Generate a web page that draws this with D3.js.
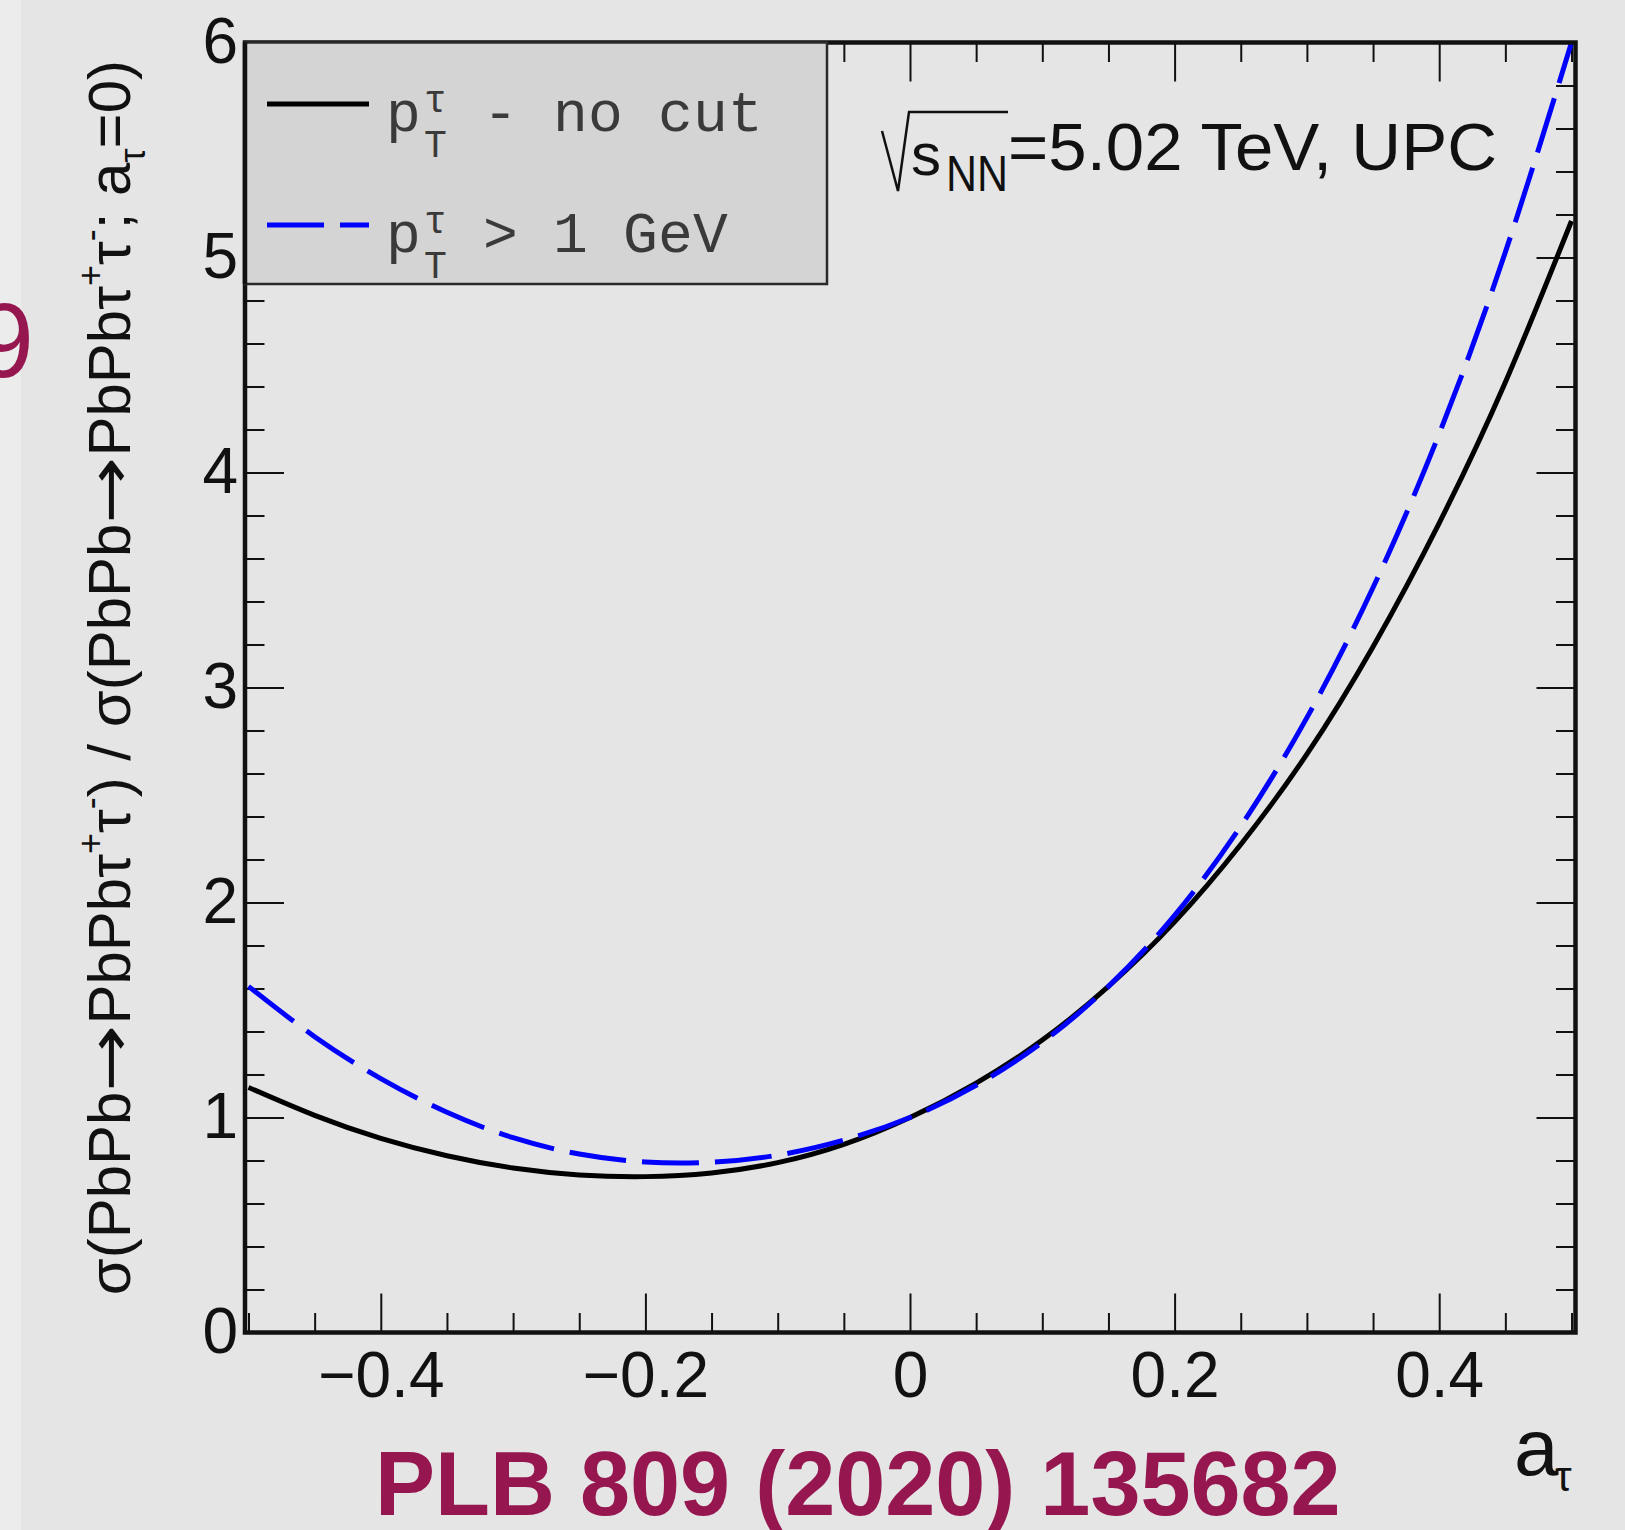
<!DOCTYPE html>
<html><head><meta charset="utf-8">
<script src="https://cdn.jsdelivr.net/npm/d3@7"></script>
<style>html,body{margin:0;padding:0;background:#e5e5e5;}svg{display:block}</style>
</head><body>
<svg id="chart" width="1625" height="1530"></svg>
<script>
// ---- data ----
const aTau = [-0.5,-0.45,-0.4,-0.35,-0.3,-0.25,-0.2,-0.15,-0.1,-0.05,0,0.05,0.1,0.15,0.2,0.25,0.3,0.35,0.4,0.45,0.5];
const ratioNoCut = [1.14,1.01,0.903,0.822,0.765,0.733,0.725,0.742,0.79,0.875,1.0,1.16,1.36,1.61,1.91,2.27,2.69,3.19,3.765,4.42,5.17];
const ratioPtCut = [1.61,1.376,1.181,1.024,0.906,0.83,0.793,0.792,0.825,0.895,1.0,1.15,1.35,1.61,1.94,2.355,2.86,3.465,4.18,5.025,6.0];
const xMajorTicks = [-0.4,-0.2,0,0.2,0.4];
const xTickLabels = ["\u22120.4","\u22120.2","0","0.2","0.4"];
const yMajorTicks = [0,1,2,3,4,5,6];
const yTickLabels = ["0","1","2","3","4","5","6"];
const legendLabels = ["- no cut", "> 1 GeV"];

const svg = d3.select("#chart");
const SANS = "'Liberation Sans', Arial, Helvetica, sans-serif";
const MONO = "'Liberation Mono', 'DejaVu Sans Mono', monospace";
const MAGENTA = "#961650";

const x = d3.scaleLinear().domain([-0.5, 0.5]).range([248.5, 1571.5]);
const y = d3.scaleLinear().domain([0, 6]).range([1332.5, 42.5]);
const frameL = 245, frameR = 1575.5, frameT = y(6), frameB = y(0);

// background
svg.append("rect").attr("x",0).attr("y",0).attr("width",1625).attr("height",1530).attr("fill","#e5e5e5");
svg.append("rect").attr("x",0).attr("y",0).attr("width",21).attr("height",1530).attr("fill","#ececec");

// cut-off "9" from neighbouring slide text
svg.append("text").attr("x",34).attr("y",377).attr("text-anchor","end")
  .style("font-family",SANS).style("font-size","105px").attr("fill",MAGENTA).text("9");

const xMinor = d3.range(-10, 11).map(i => +(i*0.05).toFixed(2)).filter(v => !xMajorTicks.includes(v));
const yMinor = d3.range(0, 31).filter(i => i % 5 !== 0).map(i => +(i*0.2).toFixed(2));
const MAJ = 39, MIN = 19.5;

function styleAxis(g){
  g.select(".domain").remove();
  g.selectAll(".tick line").attr("stroke","#111").attr("stroke-width",2);
}
// bottom
svg.append("g").attr("transform",`translate(0,${frameB})`)
  .call(d3.axisBottom(x).tickValues(xMajorTicks).tickSize(-MAJ).tickPadding(19)
    .tickFormat((d,i)=>xTickLabels[i]))
  .call(styleAxis)
  .call(g=>g.selectAll("text").style("font-family",SANS).style("font-size","64px").attr("fill","#111"));
svg.append("g").attr("transform",`translate(0,${frameB})`)
  .call(d3.axisBottom(x).tickValues(xMinor).tickSize(-MIN).tickFormat("")).call(styleAxis);
// top
svg.append("g").attr("transform",`translate(0,${frameT})`)
  .call(d3.axisTop(x).tickValues(xMajorTicks).tickSize(-MAJ).tickFormat("")).call(styleAxis);
svg.append("g").attr("transform",`translate(0,${frameT})`)
  .call(d3.axisTop(x).tickValues(xMinor).tickSize(-MIN).tickFormat("")).call(styleAxis);
// left
svg.append("g").attr("transform",`translate(${frameL},0)`)
  .call(d3.axisLeft(y).tickValues(yMajorTicks).tickSize(-MAJ).tickPadding(7)
    .tickFormat((d,i)=>yTickLabels[i]))
  .call(styleAxis)
  .call(g=>g.selectAll("text").attr("x",-7).style("font-family",SANS).style("font-size","64px").attr("fill","#111"));
svg.append("g").attr("transform",`translate(${frameL},0)`)
  .call(d3.axisLeft(y).tickValues(yMinor).tickSize(-MIN).tickFormat("")).call(styleAxis);
// right
svg.append("g").attr("transform",`translate(${frameR},0)`)
  .call(d3.axisRight(y).tickValues(yMajorTicks).tickSize(-MAJ).tickFormat("")).call(styleAxis);
svg.append("g").attr("transform",`translate(${frameR},0)`)
  .call(d3.axisRight(y).tickValues(yMinor).tickSize(-MIN).tickFormat("")).call(styleAxis);

// curves
svg.append("clipPath").attr("id","plotclip").append("rect")
  .attr("x",frameL).attr("y",frameT).attr("width",frameR-frameL).attr("height",frameB-frameT);
const line = d3.line().x(d=>x(d[0])).y(d=>y(d[1])).curve(d3.curveNatural);
const gC = svg.append("g").attr("clip-path","url(#plotclip)");
gC.append("path").datum(aTau.map((a,i)=>[a, ratioNoCut[i]])).attr("d",line)
  .attr("fill","none").attr("stroke","#000").attr("stroke-width",5);
gC.append("path").datum(aTau.map((a,i)=>[a, ratioPtCut[i]])).attr("d",line)
  .attr("fill","none").attr("stroke","#0000ff").attr("stroke-width",5).attr("stroke-dasharray","57,16");

// frame
svg.append("rect").attr("x",frameL).attr("y",frameT).attr("width",frameR-frameL).attr("height",frameB-frameT)
  .attr("fill","none").attr("stroke","#111").attr("stroke-width",4.5);

// legend
const lg = svg.append("g");
lg.append("rect").attr("x",frameL).attr("y",frameT).attr("width",827-frameL).attr("height",284-frameT)
  .attr("fill","#d4d4d4").attr("stroke","#2a2a2a").attr("stroke-width",2.5);
lg.append("line").attr("x1",frameL).attr("x2",frameL).attr("y1",frameT).attr("y2",284)
  .attr("stroke","#111").attr("stroke-width",4.5);
const rows = [{base:131, lineY:104, color:"#000", dash:null},{base:252, lineY:225, color:"#0000ff", dash:"57,16"}];
rows.forEach((r,i)=>{
  lg.append("line").attr("x1",267).attr("x2",369).attr("y1",r.lineY).attr("y2",r.lineY)
    .attr("stroke",r.color).attr("stroke-width",5).attr("stroke-dasharray",r.dash);
  const t = (xx,yy,size,txt,anchor)=>lg.append("text").attr("x",xx).attr("y",yy)
    .attr("text-anchor",anchor||"start").style("font-family",MONO).style("font-size",size+"px")
    .attr("fill","#3a3a3a").text(txt);
  t(386, r.base, 58, "p");
  t(424, r.base+26, 38, "T");
  t(424, r.base-19, 38, "\u03c4");
  t(500.5, r.base, 58, legendLabels[i].slice(0,1), "middle");
  t(553, r.base, 58, legendLabels[i].slice(2)).style("letter-spacing","0.2px");
});

// energy label
svg.append("path").attr("d","M882,131 L898,191 L909,112 L1008,112")
  .attr("fill","none").attr("stroke","#111").attr("stroke-width",2.5);
svg.append("text").attr("x",911).attr("y",175).style("font-family",SANS).style("font-size","60px").attr("fill","#111").text("s");
svg.append("text").attr("x",946).attr("y",191).style("font-family",SANS).style("font-size","50px").attr("fill","#111")
  .attr("textLength",62).attr("lengthAdjust","spacingAndGlyphs").text("NN");
svg.append("text").attr("x",1008).attr("y",170).style("font-family",SANS).style("font-size","67px").attr("fill","#111")
  .attr("textLength",489).attr("lengthAdjust","spacingAndGlyphs").text("=5.02 TeV, UPC");

// x-axis title
svg.append("text").attr("x",1514).attr("y",1475).style("font-family",SANS).style("font-size","80px").attr("fill","#111").text("a");
svg.append("text").attr("x",1555).attr("y",1491).style("font-family",SANS).style("font-size","42px").attr("fill","#111").text("\u03c4");

// y-axis title
const yt = svg.append("text").attr("transform","translate(130,60) rotate(-90)").attr("text-anchor","end")
  .style("font-family",SANS).style("font-size","60px").attr("fill","#111");
const parts = [
  ["\u03c3(PbPb",0,60],["\u2192",0,60,"arrow"],["PbPb\u03c4",0,60],["+",-27,36],["\u03c4",27,60],["-",-27,36],
  [") / \u03c3(PbPb",27,60],["\u2192",0,60,"arrow"],["PbPb\u03c4",0,60],["+",-27,36],["\u03c4",27,60],["-",-27,36],
  ["; a",27,60],["\u03c4",15,36],["=0)",-15,60]
];
parts.forEach(p=>{
  const ts = yt.append("tspan").attr("dy",p[1]).style("font-size",p[2]+"px").text(p[0]);
  if (p[3]==="arrow") ts.style("font-family","'DejaVu Sans', sans-serif").attr("textLength",67).attr("lengthAdjust","spacingAndGlyphs");
});

// reference
svg.append("text").attr("x",375).attr("y",1515).style("font-family",SANS).style("font-weight","bold")
  .style("font-size","90px").attr("fill",MAGENTA).text("PLB 809 (2020) 135682");
</script>
</body></html>
